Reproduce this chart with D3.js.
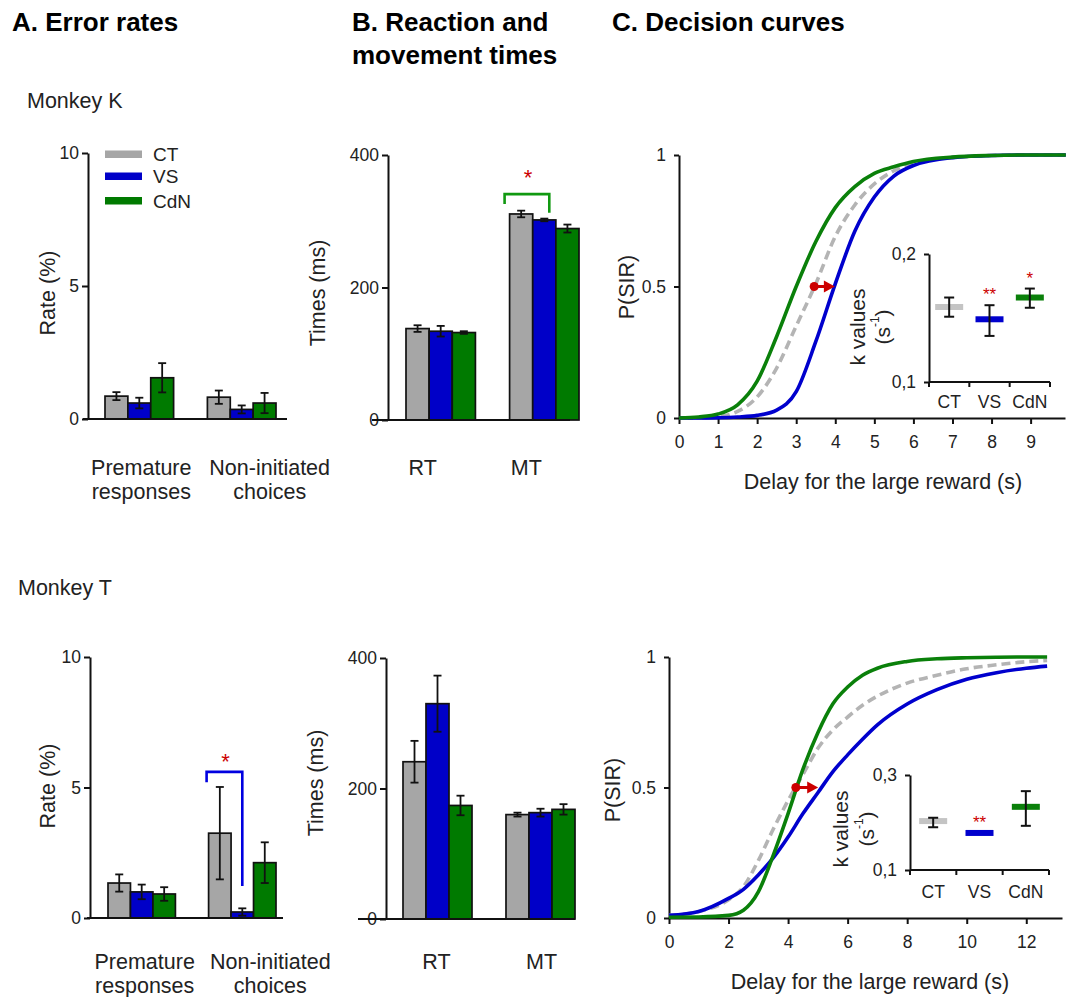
<!DOCTYPE html>
<html>
<head>
<meta charset="utf-8">
<script src="https://cdn.jsdelivr.net/npm/d3@7"></script>
<style>
  body { margin: 0; background: #fff; }
  svg { font-family: "Liberation Sans", Arial, sans-serif; }
</style>
</head>
<body>
<svg id="fig" width="1070" height="997"></svg>
<script>
// ---- data ----
const series = ["CT", "VS", "CdN"];
const barColors = ["#a6a6a6", "#0000c8", "#007a00"];
const lineColors = ["#b4b4b4", "#0000cd", "#0a800a"];
const insetColors = ["#c4c4c4", "#0000cd", "#0a800a"];

const errGroups = ["Premature responses", "Non-initiated choices"];
const errLabels = [["Premature", "responses"], ["Non-initiated", "choices"]];
const errK_mean = [[0.86, 0.60, 1.55], [0.82, 0.36, 0.60]];
const errK_sem  = [[0.15, 0.20, 0.55], [0.25, 0.15, 0.38]];
const errT_mean = [[1.34, 1.00, 0.92], [3.25, 0.23, 2.12]];
const errT_sem  = [[0.33, 0.28, 0.26], [1.77, 0.14, 0.78]];

const timeGroups = ["RT", "MT"];
const timeK_mean = [[138, 134, 132], [311, 302, 289]];
const timeK_sem  = [[5, 8, 2], [5, 2, 6]];
const timeT_mean = [[241, 330, 174], [160, 163, 168]];
const timeT_sem  = [[32, 43, 15], [3, 6, 8]];

const rateTicks = [0, 5, 10];
const timeTicks = [0, 200, 400];

// decision curves, P(SIR) against delay
const delaysK = [0, 0.5, 1, 1.5, 2, 2.5, 3, 3.5, 4, 4.5, 5, 5.5, 6, 7, 8, 9, 9.9];
const pK_CT  = [0, 0.001, 0.005, 0.025, 0.08, 0.19, 0.35, 0.51, 0.69, 0.81, 0.89, 0.94, 0.97, 0.99, 0.998, 1, 1];
const pK_VS  = [0, 0, 0.001, 0.004, 0.01, 0.03, 0.10, 0.29, 0.51, 0.71, 0.84, 0.92, 0.96, 0.99, 0.998, 1, 1];
const pK_CdN = [0, 0.004, 0.015, 0.05, 0.14, 0.31, 0.50, 0.67, 0.80, 0.88, 0.93, 0.955, 0.975, 0.992, 0.998, 1, 1];
const delayTicksK = [0, 1, 2, 3, 4, 5, 6, 7, 8, 9];

const delaysT = [0, 1, 2, 2.5, 3, 3.5, 4, 4.5, 5, 5.5, 6, 6.5, 7, 8, 9, 10, 11, 12, 12.7];
const pT_CT  = [0.01, 0.025, 0.07, 0.12, 0.22, 0.34, 0.45, 0.55, 0.65, 0.72, 0.77, 0.815, 0.85, 0.90, 0.93, 0.955, 0.97, 0.982, 0.987];
const pT_VS  = [0.01, 0.025, 0.075, 0.11, 0.165, 0.23, 0.31, 0.40, 0.48, 0.56, 0.625, 0.685, 0.74, 0.82, 0.875, 0.915, 0.94, 0.957, 0.965];
const pT_CdN = [0.003, 0.004, 0.01, 0.03, 0.10, 0.24, 0.40, 0.57, 0.71, 0.82, 0.885, 0.93, 0.957, 0.983, 0.993, 0.997, 0.999, 1, 1];
const delayTicksT = [0, 2, 4, 6, 8, 10, 12];
const pTicks = [0, 0.5, 1];

const shiftK = [3.46, 3.99];   // red arrow, CT -> VS at P = 0.5
const shiftT = [4.26, 5.01];

// k values (insets)
const kK_mean = [0.1586, 0.149, 0.166];
const kK_lo   = [0.151, 0.136, 0.158];
const kK_hi   = [0.166, 0.160, 0.173];
const kK_sig  = ["", "**", "*"];
const kT_mean = [0.203, 0.178, 0.233];
const kT_lo   = [0.190, 0.178, 0.193];
const kT_hi   = [0.210, 0.178, 0.266];
const kT_sig  = ["", "**", ""];

const svg = d3.select("#fig");
svg.append("rect").attr("width", 1070).attr("height", 997).attr("fill", "#fff");

const ink = "#111";
const red = "#cc0000";
const labelSize = 21.5;

function styleAxis(sel, size) {
  sel.select(".domain").attr("stroke", ink).attr("stroke-width", 2);
  sel.selectAll(".tick line").attr("stroke", ink).attr("stroke-width", 2);
  sel.selectAll(".tick text").attr("fill", "#222").style("font-size", size + "px");
}

function rotLabel(x, y, txt, size) {
  return svg.append("text").attr("transform", `translate(${x},${y}) rotate(-90)`)
    .attr("text-anchor", "middle").attr("dominant-baseline", "central")
    .attr("fill", "#222").style("font-size", size + "px").text(txt);
}

// ---- titles ----
svg.append("text").attr("x", 12).attr("y", 31).style("font-size", "26px").style("font-weight", "bold").text("A. Error rates");
svg.append("text").attr("x", 352).attr("y", 31).style("font-size", "26px").style("font-weight", "bold").text("B. Reaction and");
svg.append("text").attr("x", 352).attr("y", 64).style("font-size", "26px").style("font-weight", "bold").text("movement times");
svg.append("text").attr("x", 612).attr("y", 31).style("font-size", "26px").style("font-weight", "bold").text("C. Decision curves");
svg.append("text").attr("x", 27).attr("y", 108).attr("fill", "#222").style("font-size", labelSize + "px").text("Monkey K");
svg.append("text").attr("x", 18).attr("y", 595).attr("fill", "#222").style("font-size", labelSize + "px").text("Monkey T");

// ---- bar panels ----
function barPanel(o) {
  const g = svg.append("g");
  const y = d3.scaleLinear().domain([0, o.max]).range([o.y0, o.yTop]);
  const x0 = d3.scaleBand().domain(o.groups).range(o.band).paddingInner(0.33);
  const x1 = d3.scaleBand().domain(series).range([0, x0.bandwidth()]);

  o.groups.forEach((grp, gi) => {
    const gg = g.append("g").attr("transform", `translate(${x0(grp)},0)`);
    gg.selectAll("rect").data(series).join("rect")
      .attr("x", s => x1(s)).attr("width", x1.bandwidth())
      .attr("y", (s, i) => y(o.means[gi][i]))
      .attr("height", (s, i) => y(0) - y(o.means[gi][i]))
      .attr("fill", (s, i) => barColors[i]).attr("stroke", ink).attr("stroke-width", 1.7);
    const eb = gg.selectAll("g.err").data(series).join("g").attr("class", "err")
      .attr("transform", s => `translate(${x1(s) + x1.bandwidth() / 2},0)`);
    eb.append("line").attr("y1", (s, i) => y(o.means[gi][i] - o.sems[gi][i]))
      .attr("y2", (s, i) => y(o.means[gi][i] + o.sems[gi][i]));
    eb.append("line").attr("x1", -4).attr("x2", 4)
      .attr("y1", (s, i) => y(o.means[gi][i] - o.sems[gi][i])).attr("y2", (s, i) => y(o.means[gi][i] - o.sems[gi][i]));
    eb.append("line").attr("x1", -4).attr("x2", 4)
      .attr("y1", (s, i) => y(o.means[gi][i] + o.sems[gi][i])).attr("y2", (s, i) => y(o.means[gi][i] + o.sems[gi][i]));
    eb.selectAll("line").attr("stroke", ink).attr("stroke-width", 1.8);

    const t = g.append("text").attr("text-anchor", "middle").attr("fill", "#222").style("font-size", labelSize + "px");
    o.labels[gi].forEach((ln, li) => {
      t.append("tspan").attr("x", x0(grp) + x0.bandwidth() / 2 + o.labelDx[gi]).attr("y", o.labelY[li]).text(ln);
    });
  });

  const ax = g.append("g").attr("transform", `translate(${o.x},0)`)
    .call(d3.axisLeft(y).tickValues(o.ticks).tickSize(6).tickPadding(3).tickSizeOuter(0));
  styleAxis(ax, 17.5);
  g.append("line").attr("x1", o.lineStart).attr("x2", o.lineEnd).attr("y1", y(0)).attr("y2", y(0))
    .attr("stroke", ink).attr("stroke-width", 2);
  rotLabel(o.yLabelPos[0], o.yLabelPos[1], o.yLabel, labelSize);

  if (o.bracket) {
    const b = o.bracket;
    const gx = x0(b.group);
    const xl = gx + x1(series[b.from]) + b.dxl;
    const xr = gx + x1(series[b.to]) + x1.bandwidth() / 2 + b.dxr;
    g.append("path").attr("d", `M${xl},${y(b.left)}V${y(b.top)}H${xr}V${y(b.right)}`)
      .attr("fill", "none").attr("stroke", b.color).attr("stroke-width", 2.6);
    g.append("text").attr("x", (xl + xr) / 2 + 1).attr("y", y(b.top) + b.starDy).attr("text-anchor", "middle")
      .attr("fill", red).style("font-size", "22px").text("*");
  }
  return { g, y };
}

barPanel({
  x: 88, y0: 419, yTop: 153, max: 10, ticks: rateTicks, band: [105, 276],
  lineStart: 83, lineEnd: 287, groups: errGroups, labels: errLabels, means: errK_mean, sems: errK_sem,
  labelDx: [2, 28], labelY: [475, 499], yLabel: "Rate (%)", yLabelPos: [48, 293]
});
barPanel({
  x: 388, y0: 420, yTop: 155, max: 400, ticks: timeTicks, band: [406, 579],
  lineStart: 372, lineEnd: 570, groups: timeGroups, labels: [["RT"], ["MT"]], means: timeK_mean, sems: timeK_sem,
  labelDx: [-18, -18], labelY: [475], yLabel: "Times (ms)", yLabelPos: [318, 293],
  bracket: { group: "MT", from: 0, to: 1, top: 341, left: 326, right: 313, dxl: -5, dxr: 5, color: "#119911", starDy: -9 }
});
barPanel({
  x: 90, y0: 918, yTop: 657, max: 10, ticks: rateTicks, band: [108, 276],
  lineStart: 87, lineEnd: 283, groups: errGroups, labels: errLabels, means: errT_mean, sems: errT_sem,
  labelDx: [3, 28], labelY: [969, 993], yLabel: "Rate (%)", yLabelPos: [48, 786],
  bracket: { group: "Non-initiated choices", from: 0, to: 1, top: 5.6, left: 5.2, right: 1.23, dxl: -2, dxr: 0, color: "#0000e0", starDy: -3 }
});
barPanel({
  x: 386, y0: 919, yTop: 658, max: 400, ticks: timeTicks, band: [403, 575],
  lineStart: 358, lineEnd: 575, groups: timeGroups, labels: [["RT"], ["MT"]], means: timeT_mean, sems: timeT_sem,
  labelDx: [-1, 1], labelY: [969], yLabel: "Times (ms)", yLabelPos: [316, 783]
});

// legend (panel A, monkey K)
const leg = svg.append("g").attr("transform", "translate(105,154)");
leg.selectAll("rect").data(series).join("rect")
  .attr("x", 0).attr("y", (d, i) => [0, 22, 46.5][i] - 3.5).attr("width", 37).attr("height", 7.5)
  .attr("fill", (d, i) => barColors[i]);
leg.selectAll("text").data(series).join("text")
  .attr("x", 48).attr("y", (d, i) => [0, 22, 46.5][i] + 7).attr("fill", "#222").style("font-size", "19px").text(d => d);

// ---- decision curve panels ----
function curvePanel(o) {
  const g = svg.append("g");
  const x = d3.scaleLinear().domain([0, o.xmax]).range([o.x, o.xEnd]);
  const y = d3.scaleLinear().domain([0, 1]).range([o.y0, o.yTop]);

  const ax = g.append("g").attr("transform", `translate(0,${o.y0})`)
    .call(d3.axisBottom(x).tickValues(o.ticks).tickSize(6).tickPadding(12).tickSizeOuter(0));
  styleAxis(ax, 17.5);
  const ay = g.append("g").attr("transform", `translate(${o.x},0)`)
    .call(d3.axisLeft(y).tickValues(pTicks).tickSize(5).tickPadding(8).tickSizeOuter(0).tickFormat(d => String(d)));
  styleAxis(ay, 17.5);

  const line = d3.line().x((d, i) => x(o.delays[i])).y(d => y(d)).curve(d3.curveMonotoneX);
  // order: CT (dashed), VS, CdN
  o.curves.forEach((c, i) => {
    g.append("path").attr("d", line(c)).attr("fill", "none").attr("stroke", lineColors[i])
      .attr("stroke-width", 3.6).attr("stroke-dasharray", i === 0 ? "9,5" : null);
  });
  const yA = y(0.5);
  g.append("line").attr("x1", x(o.shift[0])).attr("x2", x(o.shift[1]) - 9).attr("y1", yA).attr("y2", yA)
    .attr("stroke", red).attr("stroke-width", 3);
  g.append("circle").attr("cx", x(o.shift[0])).attr("cy", yA).attr("r", 4.5).attr("fill", red);
  g.append("path").attr("d", `M${x(o.shift[1])},${yA}l-11,-6v12z`).attr("fill", red);

  g.append("text").attr("x", o.xLabelPos[0]).attr("y", o.xLabelPos[1]).attr("text-anchor", "middle")
    .attr("fill", "#222").style("font-size", labelSize + "px").text("Delay for the large reward (s)");
  rotLabel(o.yLabelPos[0], o.yLabelPos[1], "P(SIR)", labelSize);
}

curvePanel({
  x: 679, xEnd: 1065, xmax: 9.88, y0: 418, yTop: 155, ticks: delayTicksK,
  delays: delaysK, curves: [pK_CT, pK_VS, pK_CdN], shift: shiftK,
  xLabelPos: [883, 489], yLabelPos: [627, 287]
});
curvePanel({
  x: 669, xEnd: 1062, xmax: 13.2, y0: 918, yTop: 657, ticks: delayTicksT,
  delays: delaysT, curves: [pT_CT, pT_VS, pT_CdN], shift: shiftT,
  xLabelPos: [870, 989], yLabelPos: [613, 790]
});

// ---- k value insets ----
function inset(o) {
  const g = svg.append("g");
  const y = d3.scaleLinear().domain(o.domain).range([o.y0, o.yTop]);
  const x = d3.scaleBand().domain(series).range([o.x, o.xEnd]);
  const ay = g.append("g").attr("transform", `translate(${o.x},0)`)
    .call(d3.axisLeft(y).tickValues(o.domain).tickSize(5).tickPadding(8).tickSizeOuter(0)
      .tickFormat(d => d.toFixed(1).replace(".", ",")));
  styleAxis(ay, 17.5);
  g.append("line").attr("x1", o.x).attr("x2", o.xEnd).attr("y1", o.y0).attr("y2", o.y0)
    .attr("stroke", ink).attr("stroke-width", 2);
  g.selectAll("line.tk").data(series.map(s => x(s)).concat([o.xEnd])).join("line").attr("class", "tk")
    .attr("x1", d => d).attr("x2", d => d).attr("y1", o.y0).attr("y2", o.y0 + 5)
    .attr("stroke", ink).attr("stroke-width", 2);
  g.selectAll("text.cat").data(series).join("text").attr("class", "cat")
    .attr("x", s => x(s) + x.bandwidth() / 2).attr("y", o.catY).attr("text-anchor", "middle")
    .attr("fill", "#222").style("font-size", "17.5px").text(s => s);

  series.forEach((s, i) => {
    const cx = x(s) + x.bandwidth() / 2;
    g.append("line").attr("x1", cx - 14).attr("x2", cx + 14).attr("y1", y(o.mean[i])).attr("y2", y(o.mean[i]))
      .attr("stroke", insetColors[i]).attr("stroke-width", 6);
    if (o.hi[i] > o.lo[i]) {
      const eb = g.append("g");
      eb.append("line").attr("x1", cx).attr("x2", cx).attr("y1", y(o.lo[i])).attr("y2", y(o.hi[i]));
      eb.append("line").attr("x1", cx - 5).attr("x2", cx + 5).attr("y1", y(o.lo[i])).attr("y2", y(o.lo[i]));
      eb.append("line").attr("x1", cx - 5).attr("x2", cx + 5).attr("y1", y(o.hi[i])).attr("y2", y(o.hi[i]));
      eb.selectAll("line").attr("stroke", ink).attr("stroke-width", 2);
    }
    if (o.sig[i]) {
      g.append("text").attr("x", cx).attr("y", y(o.hi[i]) - 5).attr("text-anchor", "middle")
        .attr("fill", red).style("font-size", "17px").text(o.sig[i]);
    }
  });

  rotLabel(o.kPos[0], o.kPos[1], "k values", 21);
  const t = svg.append("text").attr("transform", `translate(${o.sPos[0]},${o.sPos[1]}) rotate(-90)`)
    .attr("text-anchor", "middle").attr("dominant-baseline", "central").attr("fill", "#222").style("font-size", "21px");
  t.append("tspan").text("(s");
  t.append("tspan").attr("dy", -7).style("font-size", "12px").text("-1");
  t.append("tspan").attr("dy", 7).text(")");
}

inset({
  x: 929, xEnd: 1050, y0: 382, yTop: 254, domain: [0.1, 0.2], catY: 408,
  mean: kK_mean, lo: kK_lo, hi: kK_hi, sig: kK_sig, kPos: [857, 327], sPos: [882, 327]
});
inset({
  x: 910, xEnd: 1049, y0: 870, yTop: 775, domain: [0.1, 0.3], catY: 898,
  mean: kT_mean, lo: kT_lo, hi: kT_hi, sig: kT_sig, kPos: [840, 829], sPos: [866, 829]
});
</script>
</body>
</html>
